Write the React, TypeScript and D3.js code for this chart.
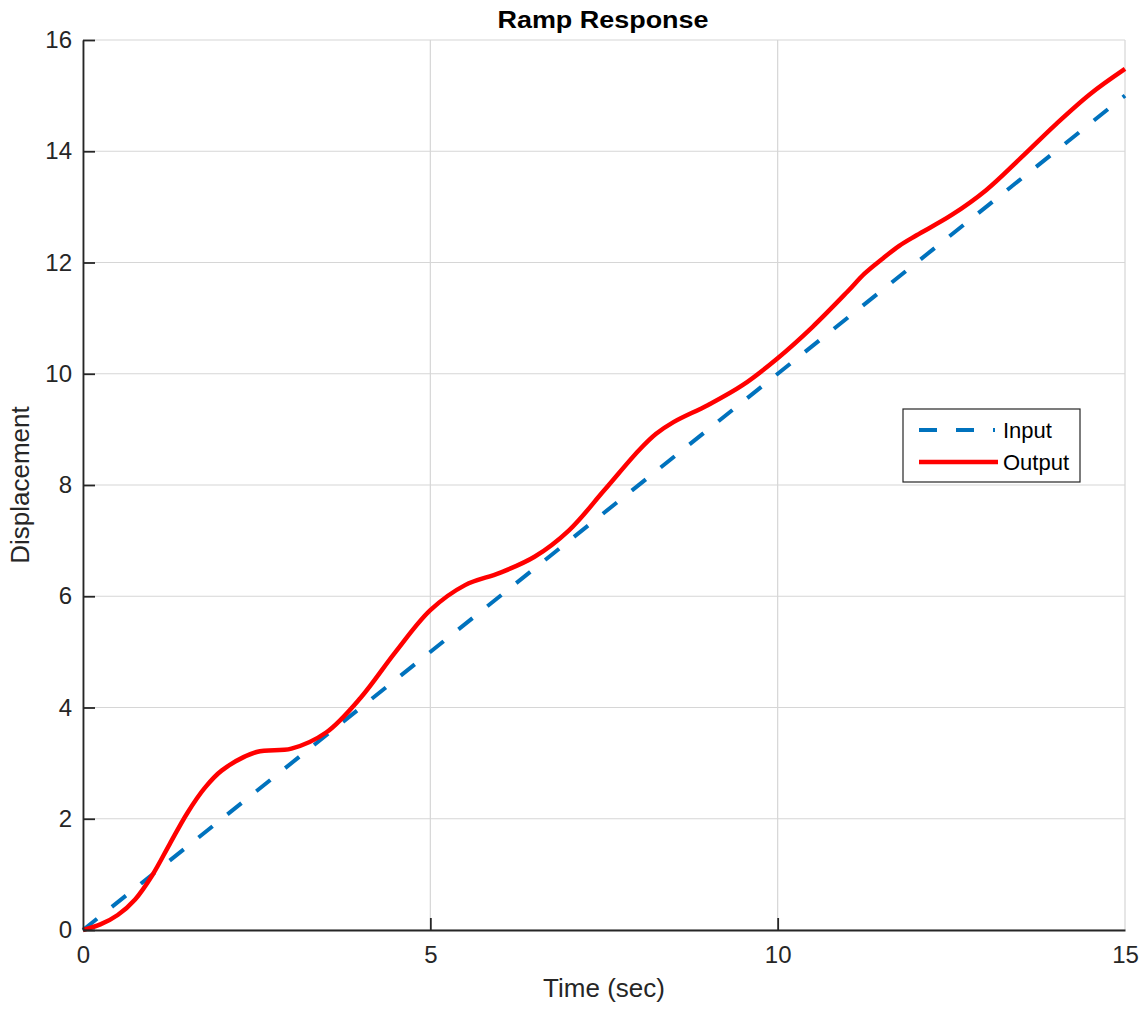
import * as d3 from "d3";
import React, { useEffect, useRef } from "react";

// Ramp response readings (time in sec, displacement)
const timeValues = [0, 0.25, 0.5, 0.75, 1, 1.25, 1.5, 1.75, 2, 2.5, 3, 3.5, 4, 4.5, 5, 5.5, 6, 6.5, 7, 7.5, 8, 8.25, 8.5, 9, 9.5, 10, 10.5, 11, 11.25, 11.5, 11.75, 12, 12.5, 13, 13.5, 14, 14.5, 15];
const outputValues = [0, 0.1, 0.27, 0.55, 0.99, 1.55, 2.1, 2.55, 2.87, 3.2, 3.26, 3.55, 4.18, 5.0, 5.75, 6.2, 6.42, 6.71, 7.19, 7.9, 8.62, 8.92, 9.13, 9.44, 9.8, 10.28, 10.84, 11.47, 11.8, 12.06, 12.3, 12.49, 12.85, 13.3, 13.88, 14.48, 15.03, 15.48];
const inputTime = [0, 15];
const inputValues = [0, 15];

const xTicks = [0, 5, 10, 15];
const yTicks = [0, 2, 4, 6, 8, 10, 12, 14, 16];
const legendLabels = ["Input", "Output"];

const App = () => {
    const svgRef = useRef<SVGSVGElement>(null);

    useEffect(() => {
        const width = 1148;
        const height = 1017;
        const margin = { top: 40, right: 23, bottom: 87, left: 83 };
        const font = "'Liberation Sans', Arial, Helvetica, sans-serif";

        const svg = d3.select(svgRef.current);
        svg.selectAll("*").remove();
        svg.attr("width", width).attr("height", height);

        const x = d3.scaleLinear().domain([0, 15]).range([margin.left, width - margin.right]);
        const y = d3.scaleLinear().domain([0, 16]).range([height - margin.bottom, margin.top]);

        // Grid
        const grid = svg.append("g").attr("stroke", "#d6d6d6").attr("stroke-width", 1.2);
        xTicks.forEach(t => {
            grid.append("line")
                .attr("x1", x(t)).attr("x2", x(t))
                .attr("y1", y(0)).attr("y2", y(16));
        });
        yTicks.forEach(t => {
            grid.append("line")
                .attr("x1", x(0)).attr("x2", x(15))
                .attr("y1", y(t)).attr("y2", y(t));
        });

        const inputData = inputTime.map((t, i) => ({ t, v: inputValues[i] }));
        const outputData = timeValues.map((t, i) => ({ t, v: outputValues[i] }));

        const straight = d3.line<{ t: number; v: number }>()
            .x(d => x(d.t))
            .y(d => y(d.v));
        const smooth = d3.line<{ t: number; v: number }>()
            .x(d => x(d.t))
            .y(d => y(d.v))
            .curve(d3.curveCatmullRom.alpha(0.5));

        // Input line (dashed)
        svg.append("path")
            .datum(inputData)
            .attr("fill", "none")
            .attr("stroke", "#0072BD")
            .attr("stroke-width", 4)
            .attr("stroke-dasharray", "18,19")
            .attr("d", straight);

        // Output line
        svg.append("path")
            .datum(outputData)
            .attr("fill", "none")
            .attr("stroke", "#FF0000")
            .attr("stroke-width", 4.5)
            .attr("stroke-linejoin", "round")
            .attr("d", smooth);

        // Axes (left + bottom, ticks inward)
        const axisColor = "#262626";
        const xAxis = svg.append("g").attr("transform", `translate(0,${y(0)})`)
            .call(d3.axisBottom(x).tickValues(xTicks).tickSizeInner(-12).tickSizeOuter(0).tickPadding(16));
        const yAxis = svg.append("g").attr("transform", `translate(${x(0)},0)`)
            .call(d3.axisLeft(y).tickValues(yTicks).tickSizeInner(-12).tickSizeOuter(0).tickPadding(11));

        [xAxis, yAxis].forEach(ax => {
            ax.select(".domain").attr("stroke", axisColor).attr("stroke-width", 1.8);
            ax.selectAll(".tick line").attr("stroke", axisColor).attr("stroke-width", 1.8);
            ax.selectAll(".tick text")
                .attr("fill", axisColor)
                .style("font-family", font)
                .style("font-size", "24px");
        });
        xAxis.selectAll(".tick text").attr("dy", "0.71em");
        xAxis.selectAll(".tick").filter((d: any) => d === 0 || d === 15).select("line").remove();

        // Labels
        svg.append("text")
            .attr("x", (x(0) + x(15)) / 2)
            .attr("y", 997)
            .attr("text-anchor", "middle")
            .attr("fill", axisColor)
            .style("font-family", font)
            .style("font-size", "26px")
            .text("Time (sec)");

        svg.append("text")
            .attr("transform", `translate(29,${(y(0) + y(16)) / 2}) rotate(-90)`)
            .attr("text-anchor", "middle")
            .attr("fill", axisColor)
            .style("font-family", font)
            .style("font-size", "26px")
            .text("Displacement");

        svg.append("text")
            .attr("x", 603)
            .attr("y", 28)
            .attr("text-anchor", "middle")
            .attr("fill", "#000")
            .attr("textLength", 211)
            .attr("lengthAdjust", "spacingAndGlyphs")
            .style("font-family", font)
            .style("font-size", "23px")
            .style("font-weight", "bold")
            .text("Ramp Response");

        // Legend
        const legend = svg.append("g");
        legend.append("rect")
            .attr("x", 903).attr("y", 409)
            .attr("width", 177).attr("height", 73)
            .attr("fill", "#fff")
            .attr("stroke", axisColor)
            .attr("stroke-width", 1.2);

        const legendStyles = [
            { color: "#0072BD", dash: "18,19", w: 4, y: 430, x2: 995 },
            { color: "#FF0000", dash: null, w: 4.5, y: 462, x2: 998 },
        ];
        legendLabels.forEach((label, i) => {
            const s = legendStyles[i];
            legend.append("line")
                .attr("x1", 919).attr("x2", s.x2)
                .attr("y1", s.y).attr("y2", s.y)
                .attr("stroke", s.color)
                .attr("stroke-width", s.w)
                .attr("stroke-dasharray", s.dash);
            legend.append("text")
                .attr("x", 1003)
                .attr("y", s.y)
                .attr("dy", "0.36em")
                .attr("fill", "#000")
                .style("font-family", font)
                .style("font-size", "22px")
                .text(label);
        });
    }, []);

    return (
        <svg ref={svgRef} style={{ position: "absolute", left: 0, top: 0, background: "#fff" }} />
    );
};

export default App;
